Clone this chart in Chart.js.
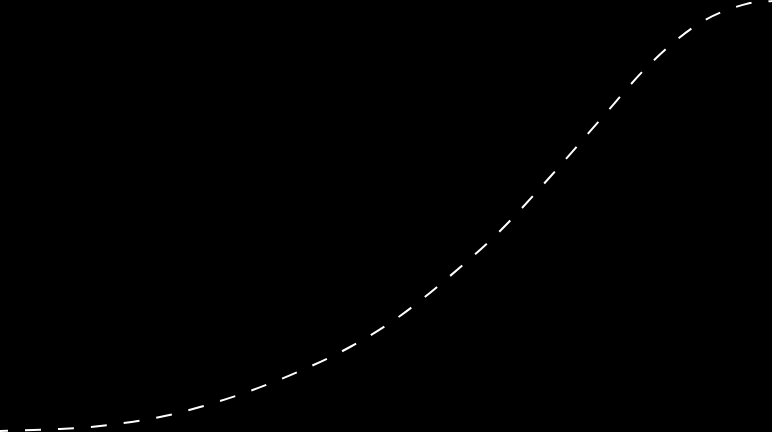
<!DOCTYPE html>
<html>
<head>
<meta charset="utf-8">
<script src="https://cdn.jsdelivr.net/npm/chart.js@4"></script>
<style>
    html, body { margin: 0; padding: 0; background: #000; }
    #wrap { width: 772px; height: 432px; }
</style>
</head>
<body>
<div id="wrap"><canvas id="curve" width="772" height="432"></canvas></div>
<script>
const xs = [0, 60, 100, 160, 200, 250, 300, 350, 400, 450, 500, 550, 600, 650, 700, 750, 772];
const levels = [1, 3, 6, 15, 25, 41, 61, 85, 116, 156, 201, 255, 312, 368, 409, 429, 431];

const points = xs.map((x, i) => ({ x: x, y: levels[i] }));

new Chart(document.getElementById('curve'), {
    type: 'line',
    data: {
        datasets: [{
            data: points,
            borderColor: '#ffffff',
            borderWidth: 2,
            borderDash: [16, 17],
            borderDashOffset: 8,
            pointRadius: 0,
            fill: false,
            cubicInterpolationMode: 'monotone',
            clip: false
        }]
    },
    options: {
        responsive: false,
        animation: false,
        layout: { padding: 0 },
        plugins: { legend: { display: false }, tooltip: { enabled: false } },
        scales: {
            x: { type: 'linear', display: false, min: 0, max: 772 },
            y: { display: false, min: 0, max: 432 }
        }
    }
});
</script>
</body>
</html>
